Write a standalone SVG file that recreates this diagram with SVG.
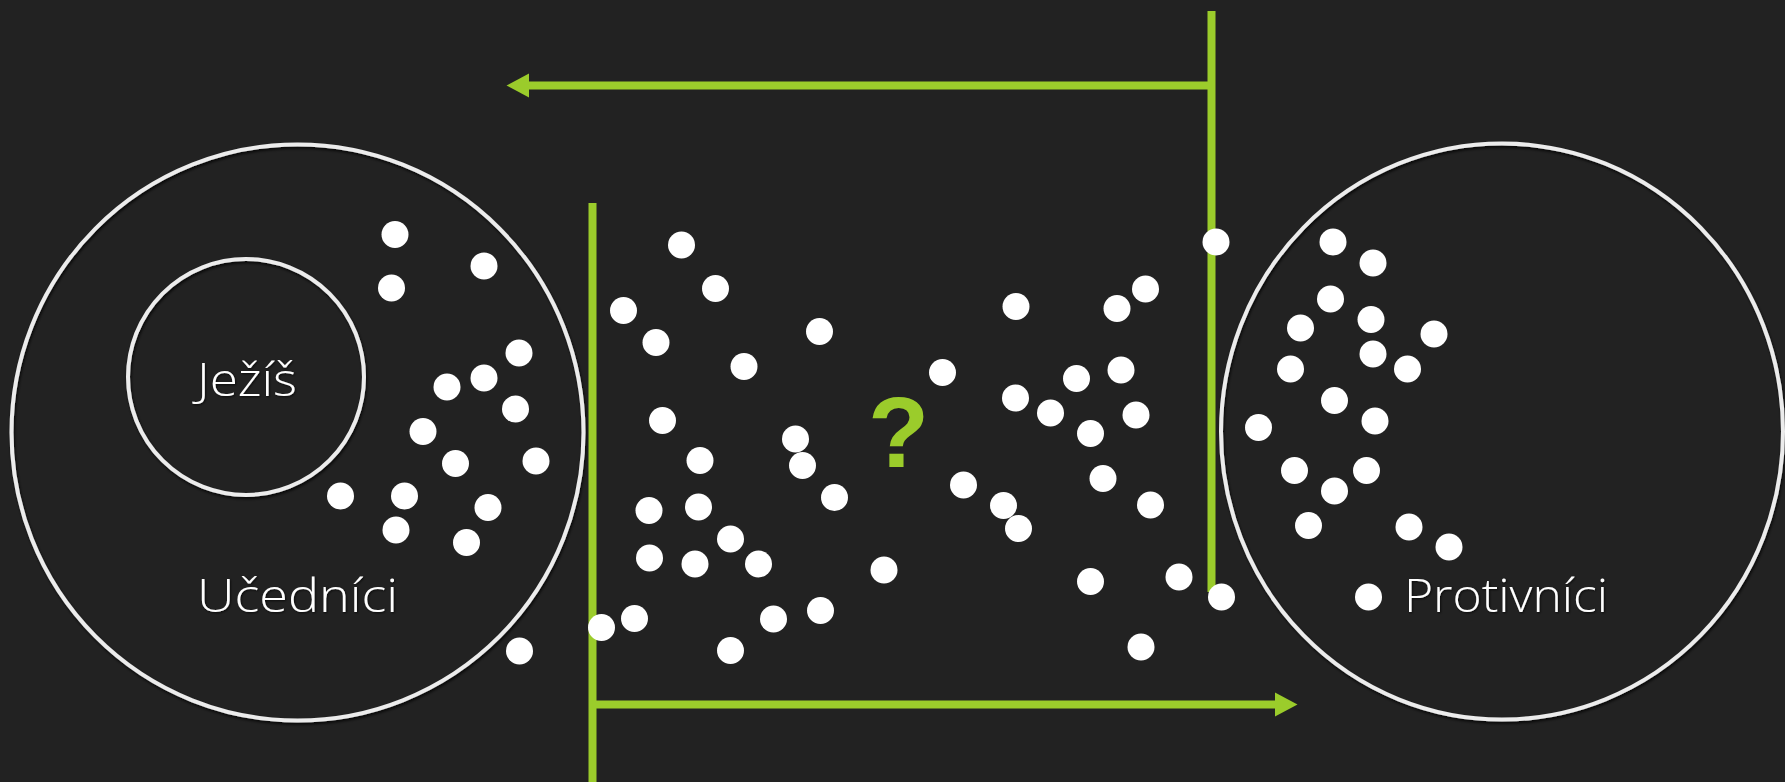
<svg xmlns="http://www.w3.org/2000/svg" width="1785" height="782" viewBox="0 0 1785 782">
<style>
.ring{fill:none;stroke:#ececec;stroke-width:4;filter:url(#sh)}
.lbl{font-family:"Open Sans","Lato","Liberation Sans",sans-serif;font-weight:300;font-size:46px;fill:#ffffff;filter:url(#tsh)}
.dot{fill:#ffffff}
.g{stroke:#9bcc2b;stroke-width:8;fill:none}
.gh{fill:#9bcc2b}
</style>
<defs>
<filter id="sh" x="-10%" y="-10%" width="120%" height="120%">
<feDropShadow dx="1" dy="2" stdDeviation="1.5" flood-color="#000" flood-opacity="0.8"/>
</filter>
<filter id="tsh" x="-10%" y="-20%" width="120%" height="140%">
<feDropShadow dx="1" dy="1" stdDeviation="1" flood-color="#000" flood-opacity="0.7"/>
</filter>
<circle id="d" r="13.5"/>
</defs>
<rect width="1785" height="782" fill="#222222"/>

<g id="connectors">
<line class="g" x1="592.5" y1="203" x2="592.5" y2="782"/>
<line class="g" x1="592.5" y1="704.5" x2="1278" y2="704.5"/>
<polygon class="gh" points="1297.5,704.5 1275,692.5 1275,716.5"/>
<line class="g" x1="1211.5" y1="11" x2="1211.5" y2="592"/>
<line class="g" x1="1211.5" y1="85.5" x2="527" y2="85.5"/>
<polygon class="gh" points="506.5,85.5 529,73.5 529,97.5"/>
</g>

<g id="ucednici">
<ellipse class="ring" cx="297.5" cy="432.5" rx="286" ry="288"/>
<text class="lbl" x="197" y="612" textLength="201" lengthAdjust="spacingAndGlyphs">Učedníci</text>
</g>

<g id="jezis">
<circle class="ring" cx="246" cy="377" r="118"/>
<text class="lbl" x="197" y="396" textLength="100" lengthAdjust="spacingAndGlyphs">Ježíš</text>
</g>

<g id="protivnici">
<ellipse class="ring" cx="1502" cy="431.5" rx="281" ry="288"/>
<text class="lbl" x="1404" y="611.5" textLength="204" lengthAdjust="spacingAndGlyphs">Protivníci</text>
</g>

<g id="question">
<text x="898.5" y="466.5" text-anchor="middle" font-family="'Liberation Sans',Arial,sans-serif" font-weight="bold" font-size="100" fill="#9bcc2b">?</text>
</g>

<g id="dots" class="dot">
<use href="#d" x="395" y="234.5"/>
<use href="#d" x="484" y="266"/>
<use href="#d" x="391.5" y="288"/>
<use href="#d" x="519" y="353"/>
<use href="#d" x="484" y="378"/>
<use href="#d" x="447" y="387"/>
<use href="#d" x="515.5" y="409"/>
<use href="#d" x="423" y="431.5"/>
<use href="#d" x="455.5" y="463.5"/>
<use href="#d" x="536" y="461"/>
<use href="#d" x="340.5" y="496"/>
<use href="#d" x="404.5" y="496"/>
<use href="#d" x="488" y="507.5"/>
<use href="#d" x="396" y="530"/>
<use href="#d" x="466.5" y="542.5"/>
<use href="#d" x="519.5" y="651"/>

<use href="#d" x="681.5" y="245"/>
<use href="#d" x="715.5" y="288.5"/>
<use href="#d" x="623.5" y="310.5"/>
<use href="#d" x="656" y="342.5"/>
<use href="#d" x="819.5" y="331.5"/>
<use href="#d" x="744" y="366.5"/>
<use href="#d" x="662.5" y="420.5"/>
<use href="#d" x="795.5" y="439"/>
<use href="#d" x="802.5" y="465.5"/>
<use href="#d" x="700" y="460.5"/>
<use href="#d" x="834.5" y="497.5"/>
<use href="#d" x="649" y="510.5"/>
<use href="#d" x="698.5" y="507"/>
<use href="#d" x="730.5" y="539"/>
<use href="#d" x="649.5" y="558"/>
<use href="#d" x="695" y="564"/>
<use href="#d" x="758.5" y="564"/>
<use href="#d" x="884" y="570"/>
<use href="#d" x="634.5" y="618.5"/>
<use href="#d" x="601.5" y="627.5"/>
<use href="#d" x="773.5" y="619"/>
<use href="#d" x="820.5" y="610.5"/>
<use href="#d" x="730.5" y="650.5"/>
<use href="#d" x="942.5" y="372.5"/>
<use href="#d" x="963.5" y="485"/>
<use href="#d" x="1003.5" y="505.5"/>
<use href="#d" x="1018.5" y="528.5"/>
<use href="#d" x="1016" y="306.5"/>
<use href="#d" x="1015.5" y="398"/>
<use href="#d" x="1050.5" y="413"/>
<use href="#d" x="1076.5" y="378.5"/>
<use href="#d" x="1121" y="370"/>
<use href="#d" x="1090.5" y="433.5"/>
<use href="#d" x="1136" y="415"/>
<use href="#d" x="1103" y="478.5"/>
<use href="#d" x="1117" y="308.5"/>
<use href="#d" x="1145.5" y="289"/>
<use href="#d" x="1150.5" y="505"/>
<use href="#d" x="1090.5" y="581.5"/>
<use href="#d" x="1179" y="577"/>
<use href="#d" x="1141" y="647"/>
<use href="#d" x="1216" y="242"/>
<use href="#d" x="1221.5" y="597"/>

<use href="#d" x="1333" y="242"/>
<use href="#d" x="1373" y="263"/>
<use href="#d" x="1330.5" y="299"/>
<use href="#d" x="1371" y="319.5"/>
<use href="#d" x="1300.5" y="328"/>
<use href="#d" x="1434" y="334"/>
<use href="#d" x="1373" y="354"/>
<use href="#d" x="1290.5" y="369"/>
<use href="#d" x="1407.5" y="369"/>
<use href="#d" x="1334.5" y="400.5"/>
<use href="#d" x="1375" y="421"/>
<use href="#d" x="1258.5" y="427.5"/>
<use href="#d" x="1294.5" y="470.5"/>
<use href="#d" x="1366.5" y="470.5"/>
<use href="#d" x="1334.5" y="491"/>
<use href="#d" x="1308.5" y="525.5"/>
<use href="#d" x="1409" y="527"/>
<use href="#d" x="1449" y="547"/>
<use href="#d" x="1368.5" y="597"/>
</g>
</svg>
